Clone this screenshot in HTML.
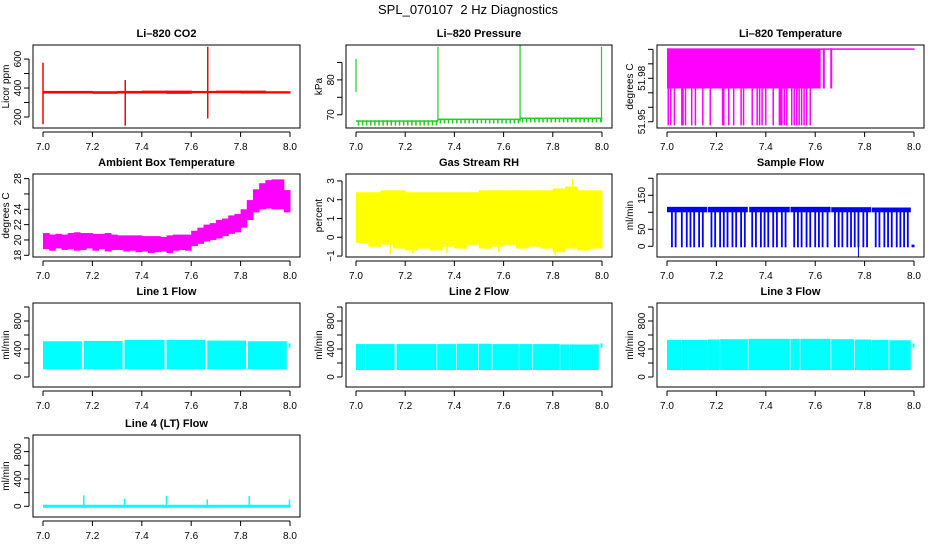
<!DOCTYPE html>
<html><head><meta charset="utf-8"><style>
body{margin:0;background:#fff;}
svg text{font-family:"Liberation Sans",sans-serif;}
</style></head><body>
<svg id="fig" width="936" height="540" viewBox="0 0 936 540" xmlns="http://www.w3.org/2000/svg">
<rect width="936" height="540" fill="#fff"/>
<text x="468" y="14" font-size="13" text-anchor="middle" style="white-space:pre">SPL_070107  2 Hz Diagnostics</text>
</svg>
<script>
// ---- data (x in days) ----
const xTicks=[7.0,7.2,7.4,7.6,7.8,8.0];
const xTickLabels=["7.0","7.2","7.4","7.6","7.8","8.0"];
// CO2
const co2BandX=[7.0,7.1,7.2,7.3,7.4,7.5,7.6,7.7,7.8,7.9,8.0];
const co2BandLo=[362,362,360,362,362,360,364,364,362,362,362];
const co2BandHi=[380,380,378,380,382,382,380,382,382,378,378];
const co2SpikeX=[7.0,7.333,7.667];
const co2SpikeLo=[150,140,190];
const co2SpikeHi=[575,455,685];
// Pressure
const presBandX=[7.0,7.333,7.667,8.0];
const presBandLo=[66.9,67.5,67.8];
const presBandHi=[68.4,68.9,69.2];
const presSpikeX=[7.0,7.333,7.667,7.998];
const presSpikeLo=[76.5,68,68,68];
const presSpikeHi=[86,89.5,90,89.5];
// Li-820 temperature
const tempBandX=[7.0,7.62];
const tempBandLo=[51.973];
const tempBandHi=[52.0007];
const tempTopX=[7.62,8.0];
const tempTopY=52.0007;
const tempDeepX=[7.005,7.015,7.03,7.06,7.065,7.075,7.1,7.115,7.145,7.175,7.225,7.23,7.25,7.27,7.3,7.31,7.345,7.365,7.375,7.385,7.4,7.43,7.455,7.46,7.465,7.475,7.485,7.505,7.515,7.525,7.535,7.545,7.555,7.565,7.58];
const tempDeepLo=51.9475;
const tempMidX=[7.635,7.665];
// Ambient box temperature (bins of 0.025)
const ambX=[7.0,7.025,7.05,7.075,7.1,7.125,7.15,7.175,7.2,7.225,7.25,7.275,7.3,7.325,7.35,7.375,7.4,7.425,7.45,7.475,7.5,7.525,7.55,7.575,7.6,7.625,7.65,7.675,7.7,7.725,7.75,7.775,7.8,7.825,7.85,7.875,7.9,7.925,7.95,7.975,8.0];
const ambLo=[18.8,18.6,18.9,18.7,18.8,18.6,18.7,18.9,18.6,18.8,18.5,18.7,18.7,18.5,18.6,18.4,18.5,18.3,18.4,18.5,18.3,18.6,18.7,18.6,19.2,19.5,19.8,20.0,20.2,20.5,20.8,21.0,21.6,22.6,23.6,24.0,24.1,24.0,24.0,23.6];
const ambHi=[20.9,20.7,20.8,20.7,20.9,21.0,20.9,20.9,20.8,20.8,20.9,20.7,20.6,20.6,20.6,20.6,20.5,20.5,20.5,20.4,20.6,20.7,20.7,20.7,21.2,21.6,22.0,22.2,22.6,22.8,23.2,23.4,24.0,25.2,26.6,27.4,27.8,27.9,27.9,26.5];
// Gas stream RH
const rhX=[7.0,7.05,7.1,7.15,7.2,7.25,7.3,7.35,7.4,7.45,7.5,7.55,7.6,7.65,7.7,7.75,7.8,7.85,7.9,7.95,8.0];
const rhLo=[-0.3,-0.5,-0.4,-0.6,-0.7,-0.6,-0.7,-0.5,-0.6,-0.4,-0.6,-0.5,-0.4,-0.6,-0.5,-0.6,-0.8,-0.6,-0.7,-0.6];
const rhHi=[2.4,2.4,2.5,2.5,2.4,2.4,2.4,2.4,2.4,2.4,2.5,2.5,2.5,2.5,2.5,2.5,2.6,2.7,2.5,2.5];
const rhSpikeX=[7.88,7.81,7.14,7.23,7.37,7.58];
const rhSpikeLo=[1.5,-0.95,-0.9,-0.85,-0.85,-0.8];
const rhSpikeHi=[3.1,1.0,1.0,1.0,1.0,1.0];
// Sample flow
const sfSegStart=[7.0,7.165,7.333,7.5,7.665,7.83];
const sfSegEnd=[7.16,7.325,7.495,7.66,7.825,7.985];
const sfLo=[100,100,100,100,100,100];
const sfHi=[116,116,116,116,115,114];
const sfDropX=[7.02,7.035,7.06,7.08,7.095,7.11,7.13,7.145,7.18,7.195,7.215,7.23,7.245,7.265,7.28,7.3,7.315,7.345,7.36,7.38,7.395,7.41,7.43,7.445,7.465,7.48,7.515,7.53,7.545,7.565,7.58,7.6,7.615,7.63,7.65,7.68,7.695,7.71,7.73,7.745,7.76,7.775,7.795,7.81,7.845,7.86,7.88,7.895,7.91,7.93,7.945,7.96,7.975];
const sfDropLo=-3;
// Line flows
const l1SegStart=[7.0,7.165,7.33,7.5,7.665,7.83];
const l1SegEnd=[7.155,7.32,7.49,7.655,7.82,7.985];
const l1Lo=[110,110,110,110,110,110];
const l1Hi=[510,515,530,530,520,510];
const l2SegStart=[7.0,7.04,7.165,7.33,7.41,7.5,7.555,7.665,7.72,7.83,7.87];
const l2SegEnd=[7.035,7.155,7.325,7.405,7.495,7.55,7.66,7.715,7.825,7.865,7.985];
const l2Lo=[100,100,100,100,100,100,100,100,100,100,100];
const l2Hi=[470,470,470,470,475,475,470,470,470,465,465];
const l3SegStart=[7.0,7.06,7.165,7.215,7.33,7.5,7.54,7.665,7.76,7.83,7.9];
const l3SegEnd=[7.055,7.16,7.21,7.325,7.495,7.535,7.66,7.755,7.825,7.895,7.985];
const l3Lo=[100,100,100,100,100,100,100,100,100,100,100];
const l3Hi=[530,530,535,540,545,545,545,540,535,530,525];
const l4BaseX=[7.0,8.0];
const l4BaseY=0;
const l4SpikeX=[7.165,7.33,7.5,7.665,7.835,7.998];
const l4SpikeHi=[160,110,150,100,150,100];

const NS="http://www.w3.org/2000/svg";
const svg=document.getElementById('fig');
function el(tag,attrs,parent){const e=document.createElementNS(NS,tag);for(const k in attrs)e.setAttribute(k,attrs[k]);(parent||svg).appendChild(e);return e;}

function panel(p){
  const g=el('g',{});
  
  
  const {L,R,T,B}=p;
  const xs=v=>L+10+(v-7.0)/1.0*(R-L-20);
  const ys=v=>B-(v-p.y0)/(p.y1-p.y0)*(B-T);
  const marks=el('g',{},g);
  
  
  p.draw(marks,xs,ys);
  const box=el('rect',{x:L,y:T,width:R-L,height:B-T,fill:'none',stroke:'#000','stroke-width':1},g);
  
  
  const t=el('text',{x:(L+R)/2,y:T-8,'font-size':11,'font-weight':'bold','text-anchor':'middle'},g);
  t.textContent=p.title;
  
  
  const xa=el('g',{},g);
  
  
  el('line',{x1:xs(xTicks[0]),x2:xs(xTicks[xTicks.length-1]),y1:B+4,y2:B+4,stroke:'#000'},xa);
  xTicks.forEach((v,i)=>{
    el('line',{x1:xs(v),x2:xs(v),y1:B+4,y2:B+9,stroke:'#000'},xa);
    if(p.xlabels){const tx=el('text',{x:xs(v),y:B+22,'font-size':10,'text-anchor':'middle'},xa);tx.textContent=xTickLabels[i];}
  });
  const ya=el('g',{},g);
  
  
  const yt=p.yTicks;
  el('line',{x1:L-4,x2:L-4,y1:ys(yt[0]),y2:ys(yt[yt.length-1]),stroke:'#000'},ya);
  yt.forEach((v,i)=>{
    el('line',{x1:L-4,x2:L-9,y1:ys(v),y2:ys(v),stroke:'#000'},ya);
    const lab=p.yLabels[i];
    if(lab){const tx=el('text',{x:L-12,y:ys(v),'font-size':10,'text-anchor':'middle',transform:`rotate(-90 ${L-12} ${ys(v)})`},ya);tx.textContent=lab;}
  });
  const yl=el('text',{x:L-24,y:(T+B)/2,'font-size':10,'text-anchor':'middle',transform:`rotate(-90 ${L-24} ${(T+B)/2})`},g);
  yl.textContent=p.ylab;
  
  
}
function vline(g,x,y1,y2,c,w){return el('line',{x1:x,x2:x,y1:y1,y2:y2,stroke:c,'stroke-width':w||1},g);}
function band(g,x0,x1,y0,y1,c){return el('rect',{x:Math.min(x0,x1),y:Math.min(y0,y1),width:Math.abs(x1-x0)+0.5,height:Math.abs(y1-y0),fill:c},g);}

const C1=[33,300],C2=[346,612],C3=[657,924];
const R1=[45,128],R2=[174,257],R3=[303,387],R4=[435,517];
const flowTicks=[0,200,400,600,800,1000],flowLabels=["0","","400","","800",""];

panel({name:'co2',L:C1[0],R:C1[1],T:R1[0],B:R1[1],y0:124,y1:697,yTicks:[200,300,400,500,600],yLabels:["200","","400","","600"],title:'Li\u2013820 CO2',ylab:'Licor ppm',xlabels:true,
 draw:(g,xs,ys)=>{for(let i=0;i<co2BandX.length-1;i++)band(g,xs(co2BandX[i]),xs(co2BandX[i+1]),ys(co2BandLo[i]),ys(co2BandHi[i]),'#ff0000');
  co2SpikeX.forEach((x,i)=>vline(g,xs(x),ys(co2SpikeLo[i]),ys(co2SpikeHi[i]),'#ff0000',1.5));}});
panel({name:'pressure',L:C2[0],R:C2[1],T:R1[0],B:R1[1],y0:66.2,y1:90,yTicks:[70,75,80,85],yLabels:["70","","80",""],title:'Li\u2013820 Pressure',ylab:'kPa',xlabels:true,
 draw:(g,xs,ys)=>{for(let i=0;i<presBandX.length-1;i++){band(g,xs(presBandX[i]),xs(presBandX[i+1]),ys(presBandHi[i]),ys(presBandHi[i])+1.5,'#22cc22');
   for(let x=presBandX[i]+0.01;x<presBandX[i+1];x+=0.0167)vline(g,xs(x),ys(presBandLo[i]),ys(presBandHi[i]),'#22cc22',1.5);}
  presSpikeX.forEach((x,i)=>vline(g,xs(x),ys(presSpikeLo[i]),ys(presSpikeHi[i]),'#22cc22',1.2));}});
panel({name:'li820-temperature',L:C3[0],R:C3[1],T:R1[0],B:R1[1],y0:51.9457,y1:52.003,yTicks:[51.95,51.96,51.97,51.98,51.99,52.0],yLabels:["51.95","","","51.98","",""],title:'Li\u2013820 Temperature',ylab:'degrees C',xlabels:true,
 draw:(g,xs,ys)=>{band(g,xs(tempBandX[0]),xs(tempBandX[1]),ys(tempBandLo[0]),ys(tempBandHi[0]),'#ff00ff');
  band(g,xs(tempTopX[0]),xs(tempTopX[1]),ys(tempTopY),ys(tempTopY)+1.5,'#ff00ff');
  tempDeepX.forEach(x=>vline(g,xs(x),ys(tempDeepLo),ys(tempBandLo[0]),'#ff00ff',1.5));
  tempMidX.forEach(x=>vline(g,xs(x),ys(tempBandLo[0]),ys(tempTopY),'#ff00ff',2));}});
panel({name:'ambient-box-temperature',L:C1[0],R:C1[1],T:R2[0],B:R2[1],y0:17.78,y1:28.6,yTicks:[18,20,22,24,26,28],yLabels:["18","20","22","24","","28"],title:'Ambient Box Temperature',ylab:'degrees C',xlabels:true,
 draw:(g,xs,ys)=>{for(let i=0;i<ambX.length-1;i++)band(g,xs(ambX[i]),xs(ambX[i+1]),ys(ambLo[i]),ys(ambHi[i]),'#ff00ff');}});
panel({name:'gas-stream-rh',L:C2[0],R:C2[1],T:R2[0],B:R2[1],y0:-1.05,y1:3.37,yTicks:[-1,0,1,2,3],yLabels:["\u22121","0","1","2","3"],title:'Gas Stream RH',ylab:'percent',xlabels:true,
 draw:(g,xs,ys)=>{for(let i=0;i<rhX.length-1;i++)band(g,xs(rhX[i]),xs(rhX[i+1]),ys(rhLo[i]),ys(rhHi[i]),'#ffff00');
  rhSpikeX.forEach((x,i)=>vline(g,xs(x),ys(rhSpikeLo[i]),ys(rhSpikeHi[i]),'#ffff00',1.5));}});
panel({name:'sample-flow',L:C3[0],R:C3[1],T:R2[0],B:R2[1],y0:-31.5,y1:212.6,yTicks:[0,50,100,150,200],yLabels:["0","50","","150",""],title:'Sample Flow',ylab:'ml/min',xlabels:true,
 draw:(g,xs,ys)=>{sfSegStart.forEach((s,i)=>band(g,xs(s),xs(sfSegEnd[i]),ys(sfLo[i]),ys(sfHi[i]),'#0000ff'));
  sfDropX.forEach(x=>vline(g,xs(x),ys(sfDropLo),ys(105),'#0000ff',1.8));
  vline(g,xs(7.775),ys(-30),ys(105),'#0000ff',1);
  band(g,xs(7.99),xs(8.0),ys(-3),ys(5),'#0000ff');}});
function flowPanel(name,title,C,Rw,s,e,lo,hi,xl){
 panel({name:name,L:C[0],R:C[1],T:Rw[0],B:Rw[1],y0:-143,y1:1057,yTicks:flowTicks,yLabels:flowLabels,title:title,ylab:'ml/min',xlabels:xl,
  draw:(g,xs,ys)=>{s.forEach((v,i)=>band(g,xs(v),xs(e[i]),ys(lo[i]),ys(hi[i]),'#00ffff'));
   vline(g,xs(7.998),ys(420),ys(480),'#00ffff',2);}});
}
flowPanel('line-1-flow','Line 1 Flow',C1,R3,l1SegStart,l1SegEnd,l1Lo,l1Hi,true);
flowPanel('line-2-flow','Line 2 Flow',C2,R3,l2SegStart,l2SegEnd,l2Lo,l2Hi,true);
flowPanel('line-3-flow','Line 3 Flow',C3,R3,l3SegStart,l3SegEnd,l3Lo,l3Hi,true);
panel({name:'line-4-flow',L:C1[0],R:C1[1],T:R4[0],B:R4[1],y0:-157,y1:1043,yTicks:flowTicks,yLabels:flowLabels,title:'Line 4 (LT) Flow',ylab:'ml/min',xlabels:true,
 draw:(g,xs,ys)=>{band(g,xs(l4BaseX[0]),xs(l4BaseX[1]),ys(l4BaseY)-1.5,ys(l4BaseY)+1.5,'#00ffff');
  l4SpikeX.forEach((x,i)=>vline(g,xs(x),ys(l4BaseY),ys(l4SpikeHi[i]),'#00ffff',1.5));}});
</script>
</body></html>
